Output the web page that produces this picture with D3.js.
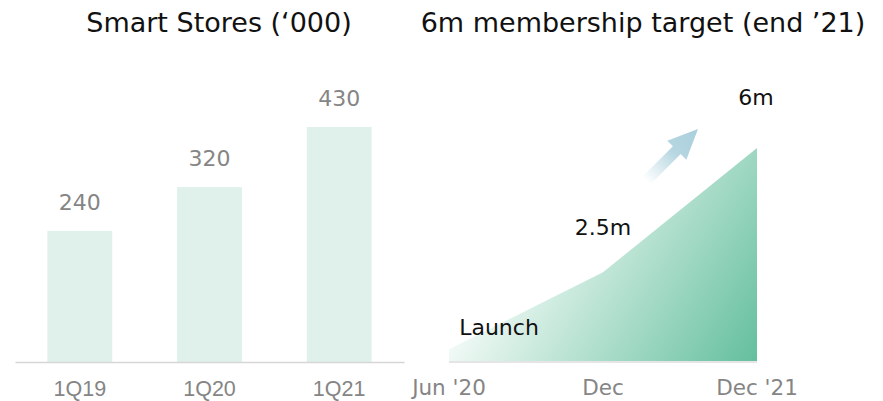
<!DOCTYPE html>
<html>
<head>
<meta charset="utf-8">
<script src="https://cdn.jsdelivr.net/npm/d3@7"></script>
<style>
  html, body { margin: 0; padding: 0; background: #fff; }
  svg { display: block; font-family: "DejaVu Sans", "Noto Sans", sans-serif; }
</style>
</head>
<body>
<svg id="chart" width="883" height="401"></svg>
<script>
// Smart Stores ('000) by quarter
const storeQuarters = ["1Q19", "1Q20", "1Q21"];
const storeCounts = [240, 320, 430];

// Membership (millions) path toward the end-2021 target
const memberPeriods = ["Jun '20", "Dec", "Dec '21"];
const memberValues = [0.33, 2.5, 6];
const memberLabels = ["Launch", "2.5m", "6m"];

const titles = ["Smart Stores (\u2018000)", "6m membership target (end \u201921)"];

const svg = d3.select("#chart");
const baseY = 362;

// ---------- Left panel: bar chart ----------
const xBar = d3.scaleBand()
  .domain(storeQuarters)
  .range([15, 404])
  .paddingInner(0.5)
  .paddingOuter(0.25);

const yBar = d3.scaleLinear().domain([0, 430]).range([baseY, 127]);

svg.append("text")
  .attr("x", 219).attr("y", 32)
  .attr("text-anchor", "middle")
  .attr("font-size", 27)
  .attr("fill", "#111")
  .text(titles[0]);

const left = svg.append("g");
left.selectAll("rect")
  .data(storeCounts)
  .join("rect")
  .attr("x", (d, i) => xBar(storeQuarters[i]))
  .attr("width", xBar.bandwidth())
  .attr("y", d => yBar(d))
  .attr("height", d => baseY - yBar(d))
  .attr("fill", "#dff1ea");

left.selectAll("text.val")
  .data(storeCounts)
  .join("text")
  .attr("class", "val")
  .attr("x", (d, i) => xBar(storeQuarters[i]) + xBar.bandwidth() / 2)
  .attr("y", d => yBar(d) - 21)
  .attr("text-anchor", "middle")
  .attr("font-size", 22)
  .attr("fill", "#858585")
  .text(d => d);

const xAxisL = left.append("g")
  .attr("transform", `translate(0,${baseY})`)
  .call(d3.axisBottom(xBar).tickSize(0).tickPadding(0));
xAxisL.select(".domain").attr("stroke", "#d6d6d6").attr("stroke-width", 1.5);
xAxisL.selectAll("text")
  .attr("font-family", null)
  .attr("font-size", 21.5)
  .attr("fill", "#858585")
  .attr("dy", null)
  .attr("y", 34);

// ---------- Right panel: membership area ----------
const xArea = d3.scalePoint().domain(memberPeriods).range([449, 757]);
const yArea = d3.scaleLinear().domain([0, 6]).range([361, 148]);

svg.append("text")
  .attr("x", 643).attr("y", 32)
  .attr("text-anchor", "middle")
  .attr("font-size", 27)
  .attr("fill", "#111")
  .text(titles[1]);

const defs = svg.append("defs");
const areaGrad = defs.append("linearGradient")
  .attr("id", "areaGrad")
  .attr("gradientUnits", "userSpaceOnUse")
  .attr("x1", 520).attr("y1", 230)
  .attr("x2", 760).attr("y2", 375);
areaGrad.append("stop").attr("offset", 0).attr("stop-color", "#f2faf6");
areaGrad.append("stop").attr("offset", 1).attr("stop-color", "#5fbd9b");

const right = svg.append("g");
const memberPts = memberValues.map((v, i) => ({ x: memberPeriods[i], v }));

right.append("path")
  .datum(memberPts)
  .attr("fill", "url(#areaGrad)")
  .attr("d", d3.area()
    .x(d => xArea(d.x))
    .y0(yArea(0))
    .y1(d => yArea(d.v)));

// baseline under the area
right.append("line")
  .attr("x1", xArea.range()[0]).attr("x2", xArea.range()[1])
  .attr("y1", baseY).attr("y2", baseY)
  .attr("stroke", "#dcdcdc").attr("stroke-width", 1.5);

// period labels
right.selectAll("text.tick")
  .data(memberPeriods)
  .join("text")
  .attr("class", "tick")
  .attr("x", d => xArea(d))
  .attr("y", 395)
  .attr("text-anchor", "middle")
  .attr("font-size", 21.5)
  .attr("fill", "#858585")
  .text(d => d);

// value annotations
const labelPos = [
  { dx: 50, dy: -14 },
  { dx: 0, dy: -37 },
  { dx: -1, dy: -43 }
];
right.selectAll("text.note")
  .data(memberPts)
  .join("text")
  .attr("class", "note")
  .attr("x", (d, i) => xArea(d.x) + labelPos[i].dx)
  .attr("y", (d, i) => yArea(d.v) + labelPos[i].dy)
  .attr("text-anchor", "middle")
  .attr("font-size", 22)
  .attr("fill", "#111")
  .text((d, i) => memberLabels[i]);

// growth arrow, fading toward its tail
const arrowGrad = defs.append("linearGradient")
  .attr("id", "arrowGrad")
  .attr("x1", 0).attr("y1", 0).attr("x2", 1).attr("y2", 0);
arrowGrad.append("stop").attr("offset", 0).attr("stop-color", "#a9cfdc").attr("stop-opacity", 0);
arrowGrad.append("stop").attr("offset", 0.55).attr("stop-color", "#a9cfdc").attr("stop-opacity", 0.85);
arrowGrad.append("stop").attr("offset", 1).attr("stop-color", "#a9cfdc").attr("stop-opacity", 1);

const tail = [646, 181], tip = [698, 129];
const len = Math.hypot(tip[0] - tail[0], tip[1] - tail[1]);
const ang = Math.atan2(tip[1] - tail[1], tip[0] - tail[0]) * 180 / Math.PI;
const headLen = 30, headHalf = 13.5, shaftHalf = 5.5;
right.append("path")
  .attr("transform", `translate(${tail[0]},${tail[1]}) rotate(${ang})`)
  .attr("fill", "url(#arrowGrad)")
  .attr("d", `M0,${-shaftHalf} L${len - headLen},${-shaftHalf} L${len - headLen},${-headHalf}
              L${len},0 L${len - headLen},${headHalf} L${len - headLen},${shaftHalf} L0,${shaftHalf} Z`);
</script>
</body>
</html>
